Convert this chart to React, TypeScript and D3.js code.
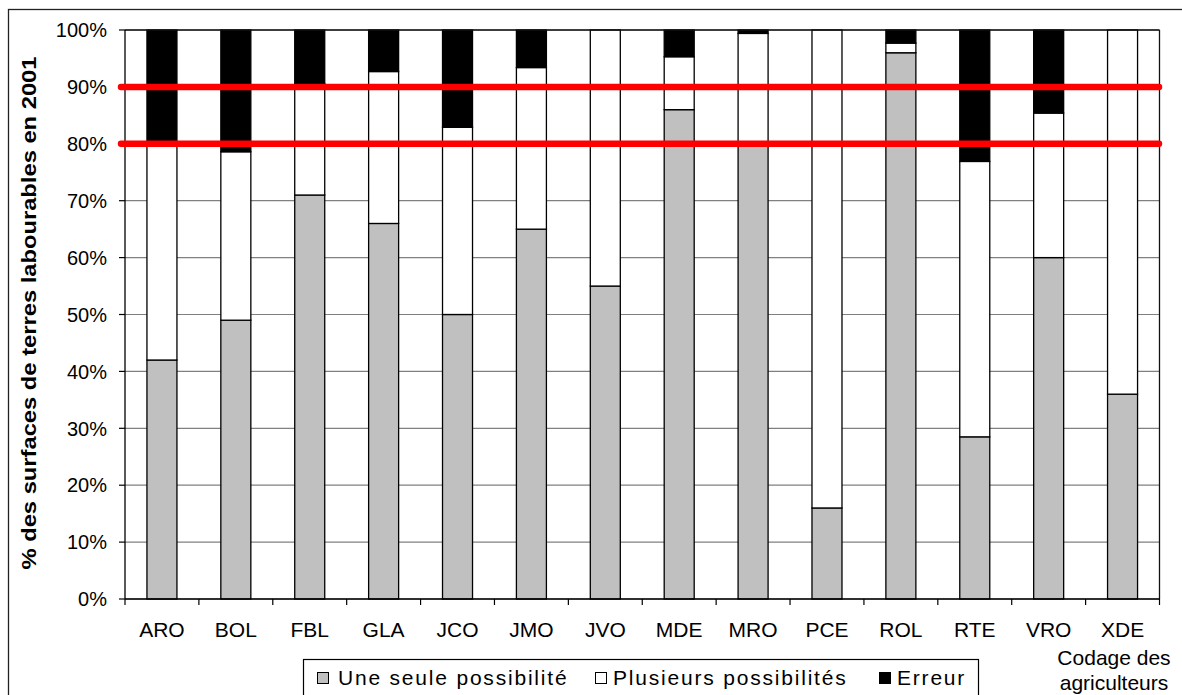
import React from "react";
import * as d3 from "d3";

const categories = ["ARO", "BOL", "FBL", "GLA", "JCO", "JMO", "JVO", "MDE", "MRO", "PCE", "ROL", "RTE", "VRO", "XDE"];
const uneSeule = [42, 49, 71, 66, 50, 65, 55, 86, 80, 16, 96, 28.5, 60, 36];
const plusieurs = [38, 29.6, 19.6, 26.7, 32.9, 28.4, 45, 9.3, 19.4, 84, 1.7, 48.4, 25.4, 64];
const erreur = [20, 21.4, 9.4, 7.3, 17.1, 6.6, 0, 4.7, 0.6, 0, 2.3, 23.1, 14.6, 0];
const yTicks = [0, 10, 20, 30, 40, 50, 60, 70, 80, 90, 100];
const thresholds = [80, 90];
const seriesNames = ["Une seule possibilité", "Plusieurs possibilités", "Erreur"];
const seriesColors = ["#c0c0c0", "#ffffff", "#000000"];

const FONT = "'Liberation Sans', Arial, sans-serif";

export default function App() {
  const x = d3.scaleBand<string>().domain(categories).range([125, 1159.5]).paddingInner(0.594).paddingOuter(0.297);
  const y = d3.scaleLinear().domain([0, 100]).range([599, 30]);
  const step = x.step();

  const rows = categories.map((c, i) => ({ cat: c, a: uneSeule[i], b: plusieurs[i], c2: erreur[i] }));
  const stack = d3.stack<any>().keys(["a", "b", "c2"])(rows);

  const legendItems = [
    { sx: 317, tx: 338 },
    { sx: 595, tx: 613 },
    { sx: 879, tx: 897 },
  ];

  return (
    <svg width={1182} height={695} style={{ position: "absolute", left: 0, top: 0, background: "#fff" }} fontFamily={FONT}>
      <rect x={8.5} y={9.5} width={1300} height={800} fill="#fff" stroke="#222" strokeWidth={1.3} />
      {/* gridlines */}
      {yTicks.map((t) => (
        <line key={"g" + t} x1={125} x2={1159.5} y1={y(t)} y2={y(t)} stroke="#808080" strokeWidth={1.2} />
      ))}
      {/* bars */}
      {stack.map((s, si) =>
        s.map((d, i) => {
          const h = y(d[0]) - y(d[1]);
          if (h <= 0) return null;
          return (
            <rect
              key={si + "-" + i}
              x={x(categories[i])}
              y={y(d[1])}
              width={x.bandwidth()}
              height={h}
              fill={seriesColors[si]}
              stroke="#000"
              strokeWidth={1.3}
            />
          );
        })
      )}
      {/* plot border top/right */}
      <line x1={125} x2={1159.5} y1={30} y2={30} stroke="#111" strokeWidth={1.3} />
      <line x1={1159.5} x2={1159.5} y1={30} y2={599} stroke="#111" strokeWidth={1.3} />
      {/* axes */}
      <line x1={125} x2={125} y1={30} y2={599} stroke="#000" strokeWidth={1.3} />
      <line x1={125} x2={1159.5} y1={599} y2={599} stroke="#000" strokeWidth={1.3} />
      {yTicks.map((t) => (
        <g key={"yt" + t}>
          <line x1={119} x2={125} y1={y(t)} y2={y(t)} stroke="#000" strokeWidth={1.2} />
          <text x={107} y={y(t)} dy="0.36em" textAnchor="end" fontSize={20} fill="#000">
            {t + "%"}
          </text>
        </g>
      ))}
      {categories.map((c, i) => (
        <line key={"xt" + c} x1={125 + step * (i + 1)} x2={125 + step * (i + 1)} y1={599} y2={605} stroke="#000" strokeWidth={1.2} />
      ))}
      <line x1={125} x2={125} y1={599} y2={605} stroke="#000" strokeWidth={1.2} />
      {categories.map((c) => (
        <text key={"xl" + c} x={(x(c) as number) + x.bandwidth() / 2} y={637} textAnchor="middle" fontSize={21} fill="#000">
          {c}
        </text>
      ))}
      {/* red threshold lines */}
      {thresholds.map((t) => (
        <line key={"r" + t} x1={121} x2={1159} y1={y(t)} y2={y(t)} stroke="#ff0000" strokeWidth={6.5} strokeLinecap="round" />
      ))}
      {/* y title */}
      <text
        transform={`translate(36,313) rotate(-90)`}
        textAnchor="middle"
        fontSize={21}
        fontWeight="bold"
        fill="#000"
        textLength={513}
        lengthAdjust="spacingAndGlyphs"
      >
        % des surfaces de terres labourables en 2001
      </text>
      {/* legend */}
      <rect x={303.5} y={659.5} width={675} height={60} fill="#fff" stroke="#000" strokeWidth={1.2} />
      {seriesNames.map((n, i) => (
        <g key={"lg" + i}>
          <rect x={legendItems[i].sx + 0.5} y={672.5} width={11} height={11} fill={seriesColors[i]} stroke="#000" strokeWidth={1} />
          <text x={legendItems[i].tx} y={685} fontSize={21} letterSpacing={1.8} fill="#000">
            {n}
          </text>
        </g>
      ))}
      <text x={1114} y={665} textAnchor="middle" fontSize={21} fill="#000">
        Codage des
      </text>
      <text x={1114} y={690} textAnchor="middle" fontSize={21} fill="#000">
        agriculteurs
      </text>
    </svg>
  );
}
